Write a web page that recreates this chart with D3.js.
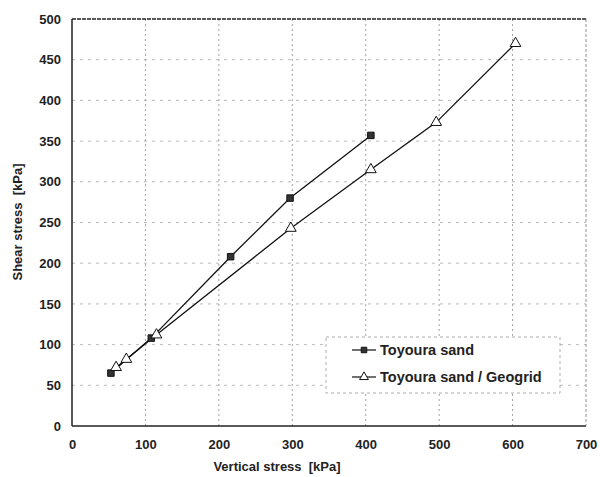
<!DOCTYPE html>
<html><head><meta charset="utf-8">
<script src="https://cdn.jsdelivr.net/npm/d3@7/dist/d3.min.js"></script>
<style>body{margin:0;background:#fff;} svg{display:block;font-family:"Liberation Sans",Arial,sans-serif;}</style>
</head><body>
<svg id="c" width="600" height="477"></svg>
<script>
const sandX = [53, 108, 216, 297, 407];
const sandY = [65, 108, 208, 280, 357];
const geoX = [60, 74, 115, 298, 407, 496, 604];
const geoY = [72, 82, 112, 243, 315, 373, 470];
const xTicks = [0, 100, 200, 300, 400, 500, 600, 700];
const yTicks = [0, 50, 100, 150, 200, 250, 300, 350, 400, 450, 500];
const seriesNames = ["Toyoura sand", "Toyoura sand / Geogrid"];

const svg = d3.select("#c");
const L = 72, R = 586, T = 19, B = 426;
const x = d3.scaleLinear().domain([0, 700]).range([L, R]);
const y = d3.scaleLinear().domain([0, 500]).range([B, T]);
const FF = '"Liberation Sans",Arial,sans-serif';

// grid
const g = svg.append("g");
g.selectAll(".vg").data(xTicks.slice(1, -1)).enter().append("line")
  .attr("x1", d => x(d)).attr("x2", d => x(d)).attr("y1", T).attr("y2", B)
  .attr("stroke", "#888").attr("stroke-width", 0.8).attr("stroke-dasharray", "2,3");
g.selectAll(".hg").data(yTicks.slice(1, -1)).enter().append("line")
  .attr("x1", L).attr("x2", R).attr("y1", d => y(d)).attr("y2", d => y(d))
  .attr("stroke", "#aaa").attr("stroke-width", 0.8).attr("stroke-dasharray", "3,5");

// frame
svg.append("line").attr("x1", L).attr("x2", L).attr("y1", T).attr("y2", B).attr("stroke", "#222").attr("stroke-width", 1.5);
svg.append("line").attr("x1", L).attr("x2", R).attr("y1", B).attr("y2", B).attr("stroke", "#222").attr("stroke-width", 1.5);
svg.append("line").attr("x1", L).attr("x2", R).attr("y1", T).attr("y2", T).attr("stroke", "#222").attr("stroke-width", 1.3).attr("stroke-dasharray", "4,1");
svg.append("line").attr("x1", R).attr("x2", R).attr("y1", T).attr("y2", B).attr("stroke", "#777").attr("stroke-width", 0.8).attr("stroke-dasharray", "3,2");

// axes
const xAxis = d3.axisBottom(x).tickValues(xTicks).tickSize(0).tickPadding(14);
const xa = svg.append("g").attr("transform", `translate(0,${B})`).call(xAxis);
xa.select(".domain").remove();
xa.selectAll("text").attr("font-size", 13).attr("font-weight", "bold").attr("fill", "#222").attr("font-family", FF);
const yAxis = d3.axisLeft(y).tickValues(yTicks).tickSize(0).tickPadding(11);
const ya = svg.append("g").attr("transform", `translate(${L},0)`).call(yAxis);
ya.select(".domain").remove();
ya.selectAll("text").attr("font-size", 13).attr("font-weight", "bold").attr("fill", "#222").attr("font-family", FF);

svg.append("text").attr("x", 277).attr("y", 471).attr("text-anchor", "middle").attr("xml:space", "preserve")
  .attr("font-size", 13).attr("font-weight", "bold").attr("fill", "#222").text("Vertical stress\u00a0 [kPa]");
svg.append("text").attr("transform", "translate(22,222) rotate(-90)").attr("text-anchor", "middle")
  .attr("font-size", 13).attr("font-weight", "bold").attr("fill", "#222").text("Shear stress\u00a0 [kPa]");

const line = d3.line().x(d => x(d[0])).y(d => y(d[1]));
const sand = sandX.map((v, i) => [v, sandY[i]]);
const geo = geoX.map((v, i) => [v, geoY[i]]);

svg.append("path").attr("d", line(sand)).attr("fill", "none").attr("stroke", "#111").attr("stroke-width", 1.3);
svg.append("path").attr("d", line(geo)).attr("fill", "none").attr("stroke", "#111").attr("stroke-width", 1.3);

const sq = d3.symbol().type(d3.symbolSquare).size(42);
const tri = d3.symbol().type(d3.symbolTriangle).size(50);
svg.selectAll(".sq").data(sand).enter().append("path").attr("d", sq)
  .attr("transform", d => `translate(${x(d[0])},${y(d[1])})`).attr("fill", "#333").attr("stroke", "#111");
svg.selectAll(".tr").data(geo).enter().append("path").attr("d", tri)
  .attr("transform", d => `translate(${x(d[0])},${y(d[1])})`).attr("fill", "#fff").attr("stroke", "#111").attr("stroke-width", 1);

// legend
const lg = svg.append("g");
lg.append("rect").attr("x", 326).attr("y", 337).attr("width", 234).attr("height", 56)
  .attr("fill", "#fff").attr("stroke", "#999").attr("stroke-width", 0.8).attr("stroke-dasharray", "3,3");
const ly = [350, 377];
ly.forEach((yy, i) => {
  lg.append("line").attr("x1", 352).attr("x2", 376).attr("y1", yy).attr("y2", yy).attr("stroke", "#111").attr("stroke-width", 1.2);
  lg.append("path").attr("d", i === 0 ? d3.symbol().type(d3.symbolSquare).size(30)() : d3.symbol().type(d3.symbolTriangle).size(34)())
    .attr("transform", `translate(364,${yy})`).attr("fill", i === 0 ? "#333" : "#fff").attr("stroke", "#111");
  lg.append("text").attr("x", 380).attr("y", yy + 5).attr("font-size", 14.5).attr("font-weight", "bold").attr("fill", "#222").text(seriesNames[i]);
});
</script>
</body></html>
